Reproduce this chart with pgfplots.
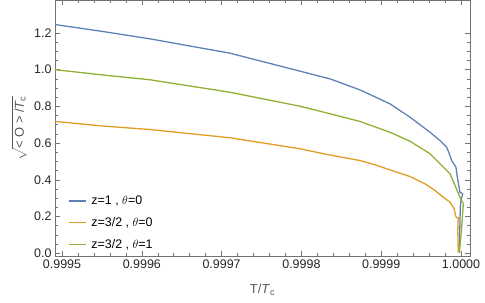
\documentclass[border=0pt]{standalone}
\usepackage{fontspec}
\setmainfont{Liberation Sans}
\usepackage{amsmath}
\usepackage{pgfplots}
\pgfplotsset{compat=1.18}
\definecolor{mblue}{rgb}{0.368417,0.506779,0.709798}
\definecolor{morange}{rgb}{0.880722,0.611041,0.142051}
\definecolor{mgreen}{rgb}{0.560181,0.691569,0.194885}
% x is stored as u = (T/Tc - 1) * 10^4, labelled with T/Tc
\pgfplotstableread{
u y
-5.088 1.246
-4.486 1.208
-3.897 1.168
-2.895 1.090
-2.018 0.992
-1.642 0.950
-1.266 0.890
-0.890 0.814
-0.639 0.741
-0.388 0.659
-0.263 0.614
-0.179 0.578
-0.138 0.532
-0.117 0.505
-0.063 0.469
-0.046 0.414
-0.013 0.332
0.021 0.324
0.000 0.287
-0.009 0.249
-0.015 0.124
-0.019 0.004
}\blue
\pgfplotstableread{
u y
-5.088 0.718
-4.486 0.693
-3.897 0.674
-2.895 0.629
-2.018 0.569
-1.642 0.535
-1.266 0.505
-1.078 0.482
-0.890 0.454
-0.639 0.418
-0.451 0.378
-0.326 0.342
-0.222 0.305
-0.138 0.278
-0.084 0.242
-0.069 0.205
-0.056 0.195
-0.034 0.193
-0.040 0.124
-0.034 0.005
}\orange
\pgfplotstableread{
u y
-5.088 1.000
-4.486 0.971
-3.897 0.945
-2.895 0.877
-2.018 0.801
-1.642 0.760
-1.266 0.718
-0.890 0.659
-0.639 0.610
-0.388 0.542
-0.263 0.487
-0.138 0.433
-0.075 0.369
-0.013 0.305
0.029 0.269
0.009 0.142
-0.021 0.001
}\green
\begin{document}
\begin{tikzpicture}
\begin{axis}[
  scale only axis, width=415bp, height=255.7bp,
  xmin=-5.088, xmax=0.113, ymin=-0.0163, ymax=1.377,
  axis line style={black!55, line width=0.6pt},
  every tick/.style={black!55, line width=0.5pt},
  tick align=inside,
  major tick length=5bp, minor tick length=3bp,
  xtick={-5,-4,-3,-2,-1,0},
  xticklabels={0.9995,0.9996,0.9997,0.9998,0.9999,1.0000},
  minor x tick num=4,
  ytick={0,0.2,0.4,0.6,0.8,1.0,1.2},
  yticklabels={0.0,0.2,0.4,0.6,0.8,1.0,1.2},
  minor y tick num=3,
  ticklabel style={font=\fontsize{12.5}{14}\selectfont, text=black!85},
  xlabel={T/\textit{T}\textsubscript{c}},
  ylabel={$\sqrt{\text{< O > /}\textit{T}_{\text{c}}}$},
  label style={font=\fontsize{13}{15}\selectfont, text=black!65},
  xlabel style={at={(axis description cs:0.5,-0.133)}, anchor=center},
  ylabel style={at={(axis description cs:-0.086,0.5)}, anchor=center},
  legend style={draw=none, fill=none, at={(axis description cs:0.024,0.008)}, anchor=south west,
    font=\fontsize{12.5}{14}\selectfont, row sep=7.5bp, column sep=3bp},
  legend cell align=left,
  every axis plot/.append style={line width=1.3pt},
]
\addplot[mblue] table {\blue};
\addlegendentry{z=1 , $\theta$=0}
\addplot[morange] table {\orange};
\addlegendentry{z=3/2 , $\theta$=0}
\addplot[mgreen] table {\green};
\addlegendentry{z=3/2 , $\theta$=1}
\end{axis}
\pgfresetboundingbox
\path[use as bounding box] ([xshift=-55bp,yshift=-46.3bp]current axis.south west) rectangle ([xshift=15bp,yshift=0.5bp]current axis.north east);
\end{tikzpicture}
\end{document}
